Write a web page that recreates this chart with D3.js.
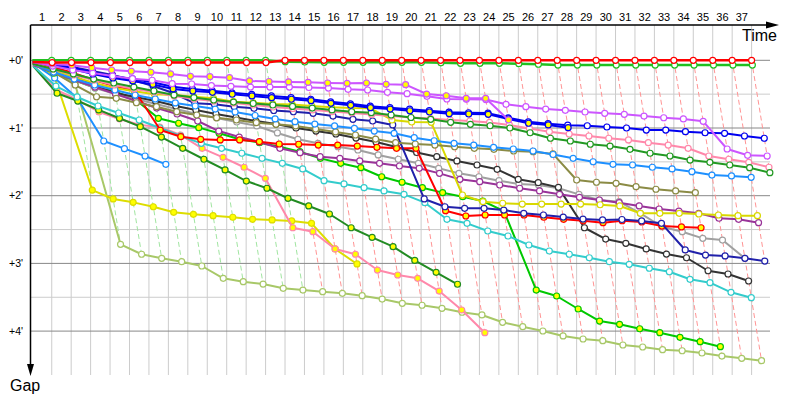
<!DOCTYPE html>
<html><head><meta charset="utf-8">
<script src="https://cdn.jsdelivr.net/npm/d3@7"></script>
<style>html,body{margin:0;padding:0;background:#fff}</style>
</head><body><svg id="c" width="800" height="400"></svg>
<script>
// ---------- data (gaps to leader in seconds, at the end of lap 0,1,2,...) ----------
const lapLabels = ["1","2","3","4","5","6","7","8","9","10","11","12","13","14","15","16","17","18","19","20","21","22","23","24","25","26","27","28","29","30","31","32","33","34","35","36","37"];
const gapTickValues = [0, 60, 120, 180, 240];
const gapTickLabels = ["+0'", "+1'", "+2'", "+3'", "+4'"];
const leaderLapTime = 106; // seconds, average lap of the leader

const redWhite      = [1.5,2,2,2,2,2,2,2,2,2,2,2,2,0,0,0,0,0,0,0,0,0,0,0,0,0,0,0,0,0,0,0,0,0,0,0,0,0];
const greenWhite    = [0,0,0,0,0,0,0,0,0,0,0,0,0,1.2,1.5,1.8,1.8,1.8,1.8,1.8,1.8,2.2,2.7,2.7,2.7,3.0,3.5,4.2,4.2,4.2,4.2,4.2,4.2,4.2,4.2,4.2,4.2,4.2];
const violetYellow  = [1.5,3.3,4.4,6.6,8.6,9.7,10.6,12.1,14.2,14.5,15.4,18.3,18.8,19.2,19.5,20.1,20.4,20.1,21.3,21.6,29.9,31.4,33.7,33.7,52.9];
const violetWhite   = [1.5,5.1,8.6,11.3,13.9,16.3,17.7,20.7,21.0,22.4,23.1,23.7,23.7,23.7,24.1,24.6,25.7,26.3,28.4,29.6,31.9,34.3,34.6,34.8,39.0,41.1,43.2,44.3,45.8,47.0,47.9,49.4,50.9,52.0,54.1,78.6,84.2,84.8];
const blueYellow    = [1.5,4.2,7.7,12.1,15.7,18.3,21.4,25.4,27.2,28.4,30.1,31.6,33.1,34.5,35.8,38.1,39.9,42.0,43.2,44.7,45.8,47.3,47.6,47.9,52.0,55.8,57.3,59.7];
const blueWhite     = [1.0,3.3,6.5,10.6,14.0,16.5,19.5,23.5,25.5,27.0,28.8,30.2,31.6,33.0,34.5,36.8,38.6,40.7,42.0,43.3,44.6,46.0,46.5,46.8,51.0,54.5,56.2,57.5,58.0,59.1,60.0,61.8,61.8,63.3,64.2,64.7,67.1,69.1];
const navyWhite     = [1.5,3.3,5.9,9.5,13.0,17.5,22.8,29.2,38.1,39.0,41.1,42.5,44.5,45.6,47.0,49.4,52.3,53.8,57.3,122.9,129.8,131.2,131.2,132.7,135.6,137.1,138.9,140.7,141.5,141.1,142.4,144.5,168.1,172.6,173.4,175.5,177.9];
const yellowWhite   = [2.4,8.6,14.8,20.1,24.6,27.5,30.1,30.8,32.3,33.7,36.7,37.6,38.7,39.2,40.5,41.7,42.3,42.5,52.9,54.7,55.0,119.4,125.3,126.7,127.4,127.4,127.4,127.4,128.0,129.1,135.6,135.6,135.6,136.2,137.1,137.7,137.7];
const yellowYellow  = [1.5,14.5,115.0,122.9,125.9,129.8,134.7,136.5,137.7,139.1,140.9,141.5,142.4,144.5,167.2,180.5];
const limeWhite     = [3.3,10.4,21.0,163.1,171.9,175.5,178.5,182.3,193.2,196.2,198.3,202.1,203.6,205.1,206.5,208.6,211.6,215.4,217.1,219.8,223.3,225.7,232.2,236.1,239.9,244.3,247.0,248.5,252.3,254.1,256.5,257.4,259.4,262.1,264.1,266.2];
const skyWhite      = [3.3,10.4,16.6,21.9,26.3,30.8,34.3,37.8,40.5,43.2,45.8,48.9,52.0,54.4,56.5,58.2,60.3,62.7,64.7,68.6,71.3,73.6,75.1,77.1,78.6,80.4,83.5,86.9,89.9,92.2,92.8,94.8,96.3,98.7,101.7,102.5,103.7];
const skyWhite2     = [2.4,15.7,33.7,71.5,78.3,84.8,92.2];
const pinkYellow    = [4.2,26.3,35.2,45.8,52.0,57.4,59.1,66.2,78.0,86.0,94.8,104.6,148.4,151.9,167.2,171.9,185.9,190.3,193.2,204.5,221.3,241.4];
const pinkWhite     = [3.3,7.7,13.0,17.5,21.9,25.4,28.1,31.6,34.3,36.1,37.8,39.6,41.4,42.7,44.0,45.4,46.7,48.0,49.4,50.7,51.6,52.9,53.8,55.1,57.3,60.4,63.3,65.3,67.1,69.1,70.6,73.0,75.1,78.0,84.8,87.7,90.4,94.8];
const forestWhite   = [3.3,7.7,12.1,16.6,20.1,23.7,27.2,30.8,33.0,35.2,37.0,38.3,39.6,40.9,42.3,44.0,45.6,46.4,48.5,50.7,52.3,55.0,56.7,58.0,60.0,64.2,69.1,71.5,74.4,76.0,78.9,82.4,84.8,88.4,90.4,92.8,95.2,99.6];
const forestYellow  = [5.1,29.2,36.1,44.0,51.4,58.8,68.0,78.0,87.7,97.2,107.0,113.4,122.3,129.1,136.2,148.4,156.9,165.2,177.4,187.9,198.5];
const brightGreenYellow = [3.3,11.3,17.7,24.3,27.5,35.2,51.4,55.8,59.7,64.7,70.0,73.0,76.6,81.0,86.9,91.3,95.2,103.2,108.1,112.9,117.3,120.9,124.7,133.6,203.6,208.9,220.4,231.1,234.0,237.9,241.4,245.5,249.4,253.8];
const oliveWhite    = [3.3,10.4,21.9,32.3,33.7,37.6,41.1,45.6,48.5,50.9,52.9,55.3,56.7,58.2,60.9,63.5,66.2,69.8,73.0,74.2,75.1,76.6,78.0,78.9,80.4,81.0,83.0,106.1,108.1,109.0,112.0,114.3,115.8,117.3];
const charcoalWhite = [2.4,6.8,13.9,22.8,29.0,32.5,36.1,40.5,44.0,47.6,50.7,53.8,56.5,60.0,62.7,65.3,68.9,72.4,76.8,81.7,85.4,89.2,92.8,96.6,105.5,108.5,112.6,148.4,158.4,162.2,167.2,171.7,175.0,186.5,189.4,195.6];
const greyWhite     = [4.2,10.4,17.5,24.6,29.9,34.3,38.7,43.2,47.6,51.1,54.7,58.2,64.4,70.0,73.6,76.6,79.5,83.9,87.7,91.3,95.7,100.2,103.2,106.7,109.6,110.5,113.4,118.8,123.8,125.3,135.6,147.5,151.9,157.8,159.3,175.5];
const purpleWhite   = [4.2,10.4,17.5,23.7,29.9,36.1,42.3,47.6,53.8,62.7,68.0,72.4,78.0,81.9,85.4,86.9,89.2,91.3,93.7,95.7,100.2,105.5,107.6,110.5,113.4,115.8,118.8,121.4,123.8,126.2,129.1,131.8,133.6,135.6,140.0,140.9,143.9];
const cyanWhite     = [5.1,22.8,32.5,40.5,46.7,52.9,60.0,67.1,73.6,78.0,82.4,86.9,91.3,96.3,106.7,109.6,112.9,115.8,118.8,126.2,140.9,144.5,151.3,155.7,163.7,169.0,171.9,175.0,178.5,180.8,184.3,187.4,194.1,197.1,205.6,210.4];
const redYellow     = [2.4,5.9,11.3,17.5,22.8,26.6,61.8,67.7,70.0,70.6,70.6,72.1,74.2,74.4,75.1,75.1,76.0,77.1,78.0,78.0,133.3,138.0,137.1,137.1,137.1,139.1,140.9,142.2,143.9,142.2,143.3,146.9,147.7,148.4];

// drawing order (back to front)
const series = [
  {key:"lime", gaps: limeWhite}, {key:"yellowY", gaps: yellowYellow}, {key:"sky2", gaps: skyWhite2},
  {key:"pinkY", gaps: pinkYellow}, {key:"forestY", gaps: forestYellow}, {key:"brightY", gaps: brightGreenYellow},
  {key:"cyan", gaps: cyanWhite}, {key:"grey", gaps: greyWhite}, {key:"charcoal", gaps: charcoalWhite},
  {key:"purple", gaps: purpleWhite}, {key:"redY", gaps: redYellow}, {key:"navy", gaps: navyWhite},
  {key:"yellowW", gaps: yellowWhite}, {key:"olive", gaps: oliveWhite}, {key:"sky", gaps: skyWhite},
  {key:"pinkW", gaps: pinkWhite}, {key:"forestW", gaps: forestWhite}, {key:"blueW", gaps: blueWhite},
  {key:"blueY", gaps: blueYellow}, {key:"violetW", gaps: violetWhite}, {key:"violetY", gaps: violetYellow},
  {key:"greenW", gaps: greenWhite}, {key:"redW", gaps: redWhite}
];

// ---------- styles ----------
const lineColor = {
  lime:"#a8c868", yellowY:"#dddd00", sky2:"#1e90ff", pinkY:"#ff88aa", forestY:"#228b22", brightY:"#00c800",
  cyan:"#33cccc", grey:"#a0a0a0", charcoal:"#333333", purple:"#993399", redY:"#ff0000", navy:"#2020aa",
  yellowW:"#d8d800", olive:"#8b8b45", sky:"#1e90ff", pinkW:"#ff88aa", forestW:"#229922", blueW:"#0000f0",
  blueY:"#0000f0", violetW:"#cc55ff", violetY:"#cc55ff", greenW:"#20c020", redW:"#ff0000"
};
const yellowFilled = new Set(["yellowY","pinkY","forestY","brightY","redY","blueY","violetY"]);

// ---------- chart ----------
const svg = d3.select("#c");
const nLaps = lapLabels.length;
const x = d3.scaleLinear().domain([0, nLaps * leaderLapTime]).range([32.3, 751.6]);
const y = d3.scaleLinear().domain([0, 240]).range([60.3, 331.1]);
const F = "'Liberation Sans', Arial, sans-serif";

const pointsOf = s => s.gaps.map((g, i) => ({lap: i, gap: g, key: s.key, px: x(i * leaderLapTime + g), py: y(g)}));
series.forEach(s => s.pts = pointsOf(s));

// grid
const grid = svg.append("g");
grid.selectAll("line.v").data(d3.range(1, nLaps + 1)).enter().append("line")
  .attr("x1", d => x(d * leaderLapTime)).attr("x2", d => x(d * leaderLapTime))
  .attr("y1", 25).attr("y2", 375).attr("stroke", "#cccccc").attr("stroke-width", 1);
const minor = d3.range(30, 240, 60);
grid.selectAll("line.hm").data(minor).enter().append("line")
  .attr("x1", 31).attr("x2", 770).attr("y1", d => y(d)).attr("y2", d => y(d))
  .attr("stroke", "#cccccc").attr("stroke-width", 1);
grid.selectAll("line.hM").data(gapTickValues).enter().append("line")
  .attr("x1", 31).attr("x2", 770).attr("y1", d => y(d)).attr("y2", d => y(d))
  .attr("stroke", "#888888").attr("stroke-width", 1);

// dashed lap lines
const lineGen = d3.line().x(d => d.px).y(d => d.py);
const lapG = svg.append("g");
for (let lap = 1; lap <= nLaps; lap++) {
  const pts = series.filter(s => s.gaps.length > lap).map(s => s.pts[lap]).sort((a, b) => a.gap - b.gap);
  if (pts.length < 2) continue;
  const col = d3.interpolateRgb(lineColor[pts[0].key], "#ffffff")(0.58);
  lapG.append("path").attr("d", lineGen(pts)).attr("fill", "none")
    .attr("stroke", col).attr("stroke-width", 1).attr("stroke-dasharray", "5,3");
}

// driver lines
const dG = svg.append("g");
series.forEach(s => {
  const g = dG.append("g");
  const lead = (s.key === "redW" || s.key === "greenW");
  g.append("path").attr("d", lineGen(s.pts)).attr("fill", "none")
    .attr("stroke", lineColor[s.key]).attr("stroke-width", lead ? 2.5 : 2).attr("stroke-linejoin", "round");
  g.selectAll("circle").data(s.pts.filter(p => p.lap > 0)).enter().append("circle")
    .attr("cx", d => d.px).attr("cy", d => d.py).attr("r", 3)
    .attr("fill", yellowFilled.has(s.key) ? "#ffff00" : "#ffffff")
    .attr("stroke", lineColor[s.key]).attr("stroke-width", 1.2);
});

// axes
const ax = svg.append("g");
ax.append("line").attr("x1", 30.5).attr("x2", 768).attr("y1", 25).attr("y2", 25).attr("stroke", "#000").attr("stroke-width", 1.5);
ax.append("path").attr("d", "M766,21.5 L779,25 L766,28.5 Z").attr("fill", "#000");
ax.append("line").attr("x1", 30.5).attr("x2", 30.5).attr("y1", 25).attr("y2", 366).attr("stroke", "#000").attr("stroke-width", 1.5);
ax.append("path").attr("d", "M27,364 L30.5,376 L34,364 Z").attr("fill", "#000");

ax.selectAll("text.xl").data(lapLabels).enter().append("text")
  .attr("x", (d, i) => x((i + 0.5) * leaderLapTime)).attr("y", 21)
  .attr("text-anchor", "middle").attr("font-family", F).attr("font-size", 11).attr("fill", "#000").text(d => d);
ax.selectAll("text.yl").data(gapTickValues).enter().append("text")
  .attr("x", 23).attr("y", d => y(d) + 3.5)
  .attr("text-anchor", "end").attr("font-family", F).attr("font-size", 10.5).attr("fill", "#000")
  .text((d, i) => gapTickLabels[i]);
ax.append("text").attr("x", 777).attr("y", 41).attr("text-anchor", "end")
  .attr("font-family", F).attr("font-size", 16).text("Time");
ax.append("text").attr("x", 10).attr("y", 391).attr("text-anchor", "start")
  .attr("font-family", F).attr("font-size", 16).text("Gap");
</script>
</body></html>
